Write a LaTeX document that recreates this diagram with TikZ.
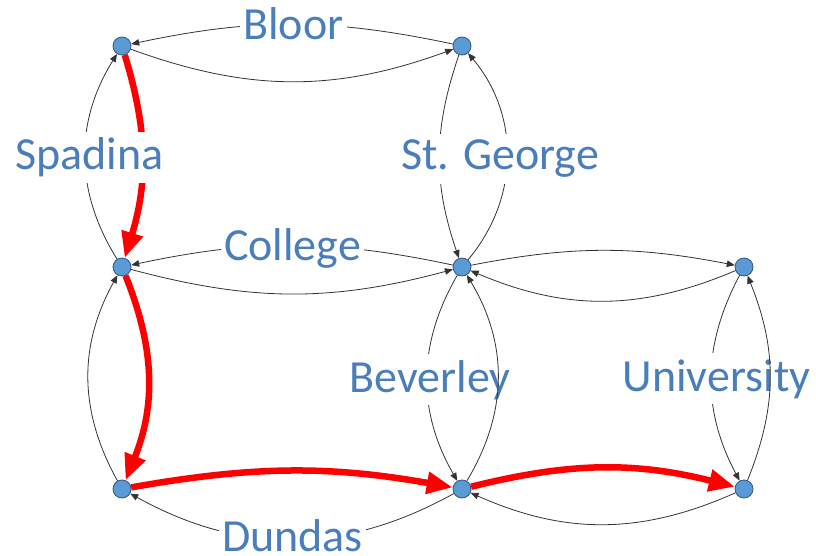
\documentclass[tikz,border=0pt]{standalone}
\usepackage{fontspec}
\setmainfont{Carlito}
\usetikzlibrary{arrows.meta}
\definecolor{lbl}{RGB}{74,126,187}
\definecolor{nfill}{RGB}{91,155,213}
\definecolor{nline}{RGB}{50,85,130}
\begin{document}
\begin{tikzpicture}[x=1pt,y=-1pt,
  stn/.style={circle,fill=nfill,draw=nline,line width=0.8pt,minimum size=18pt,inner sep=0pt},
  link/.style={draw=black!80,line width=0.8pt,-{Triangle[length=8pt,width=6.5pt]}},
  route/.style={draw=red,line width=6.5pt,-{Triangle[length=26pt,width=21pt]}},
  lab/.style={fill=white,text=lbl,font=\fontsize{46}{50}\selectfont,inner xsep=3pt,inner ysep=6pt,anchor=base}]
\useasboundingbox (0,0) rectangle (816,556);
% stations
\node[stn] (A) at (122,46) {};
\node[stn] (B) at (462,46) {};
\node[stn] (C) at (122,267) {};
\node[stn] (D) at (462,267) {};
\node[stn] (E) at (744,267) {};
\node[stn] (F) at (122,489) {};
\node[stn] (G) at (462,489) {};
\node[stn] (H) at (744,489) {};
% black links
\draw[link] (A) to[bend right=20] (B);
\draw[link] (B) to[bend right=12] (A);
\draw[link] (C) to[bend right=15] (D);
\draw[link] (D) to[bend right=12] (C);
\draw[link] (D) to[bend left=11] (E);
\draw[link] (E) to[bend left=23] (D);
\draw[link] (G) to[bend left=29] (F);
\draw[link] (H) to[bend left=24] (G);
\draw[link] (C) to[bend left=32] (A);
\draw[link] (F) to[bend left=29] (C);
\draw[link] (B) to[bend right=19] (D);
\draw[link] (D) to[bend right=40] (B);
\draw[link] (D) to[bend right=30] (G);
\draw[link] (E) to[bend right=28] (H);
% route
\draw[route] (A) to[bend left=17] (C);
\draw[route] (C) to[bend left=22] (F);
\draw[route] (F) to[bend left=10] (G);
\draw[route] (G) to[bend left=14] (H);
% labels
\node[lab] (lBloor) at (293.5,40) {Bloor};
\node[lab] (lSpadina) at (89.5,170) {Spadina};
\node[lab] (lStGeorge) at (500,170) {St. George};
\node[lab] (lCollege) at (292.5,260) {College};
\node[lab] (lBeverley) at (430,392) {Beverley};
\node[lab] (lUniversity) at (716.5,391) {University};
\node[lab] (lDundas) at (292.5,551) {Dundas};
% links drawn over labels
\draw[link] (G) to[bend right=31] (D);
\draw[link] (H) to[bend right=22] (E);
\end{tikzpicture}
\end{document}
